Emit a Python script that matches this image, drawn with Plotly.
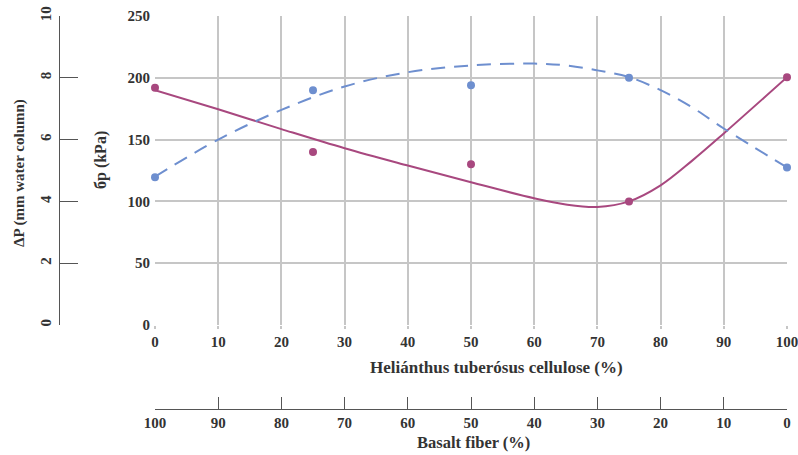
import plotly.graph_objects as go

# measured points
cellulose = [0, 25, 50, 75, 100]
basalt = [100, 75, 50, 25, 0]
purple_vals = [192, 140, 130, 100, 200.5]
blue_vals = [119.5, 190, 194, 200, 127.5]

# trend curves
curve_x = [0, 10, 20, 30, 40, 50, 60, 65, 70, 75, 80, 85, 90, 100]
purple_curve = [190, 174.5, 158.5, 143, 129, 115.5, 102.5, 97.5, 95.5, 100, 113, 133, 155, 200.5]
blue_curve = [120, 150, 174, 193, 204.5, 210, 211.5, 210, 206, 200.5, 190, 176, 159, 127.5]

x_ticks = list(range(0, 101, 10))
y_ticks = list(range(0, 251, 50))
dp_ticks = list(range(0, 11, 2))

PURPLE = "#A8487F"
BLUE = "#6E8FCF"
GRID = "#C6C6C6"
TXT = "#333333"
AX = "#555555"
FONT = "Liberation Serif"

W, H = 798, 455
ml, mr, mt, mb = 40, 10, 16, 46
pw = W - ml - mr
ph = H - mt - mb


def px(xp):
    return (xp - ml) / pw


def py(yp):
    return (H - mb - yp) / ph


fig = go.Figure()
fig.add_trace(go.Scatter(x=curve_x, y=purple_curve, mode="lines", line_shape="spline",
                         line=dict(color=PURPLE, width=2), showlegend=False, hoverinfo="skip"))
fig.add_trace(go.Scatter(x=curve_x, y=blue_curve, mode="lines", line_shape="spline",
                         line=dict(color=BLUE, width=2, dash="14px,9px"),
                         showlegend=False, hoverinfo="skip"))
fig.add_trace(go.Scatter(x=cellulose, y=purple_vals, mode="markers",
                         marker=dict(color=PURPLE, size=8), showlegend=False, cliponaxis=False))
fig.add_trace(go.Scatter(x=cellulose, y=blue_vals, mode="markers",
                         marker=dict(color=BLUE, size=8), showlegend=False, cliponaxis=False))
# invisible traces carrying the secondary axes
fig.add_trace(go.Scatter(x=basalt, y=blue_vals, xaxis="x2", mode="markers",
                         marker=dict(opacity=0), showlegend=False, hoverinfo="skip"))
fig.add_trace(go.Scatter(x=cellulose, y=[v / 25 for v in blue_vals], yaxis="y2", mode="markers",
                         marker=dict(opacity=0), showlegend=False, hoverinfo="skip"))

x_start = px(155)
y_start = py(325)

tf = dict(family=FONT, size=15, color=TXT, weight="bold")

fig.update_layout(
    width=W, height=H,
    margin=dict(l=ml, r=mr, t=mt, b=mb),
    plot_bgcolor="white", paper_bgcolor="white",
    font=dict(family=FONT, color=TXT),
    xaxis=dict(domain=[x_start, px(787)], range=[0, 100], tickvals=x_ticks, automargin=False,
               showgrid=True, gridcolor=GRID, gridwidth=1.5, zeroline=False,
               showline=False, ticks="outside", ticklen=3, tickcolor=GRID, tickwidth=1.5,
               tickfont=tf, anchor="y", ticklabeloverflow="allow"),
    xaxis2=dict(domain=[x_start, px(787)], range=[100, 0], tickvals=x_ticks, anchor="free",
                position=0, overlaying="x", side="bottom", automargin=False,
                showgrid=False, zeroline=False, showline=True, linecolor=AX, linewidth=1,
                ticks="inside", ticklen=12, tickcolor=AX, tickwidth=1, tickfont=tf,
                ticklabeloverflow="allow"),
    yaxis=dict(domain=[y_start, 1], range=[0, 250], tickvals=y_ticks, automargin=False,
               showgrid=True, gridcolor=GRID, gridwidth=1.5, zeroline=False, showline=False,
               ticks="", ticklabelstandoff=4, tickfont=tf, ticklabeloverflow="allow"),
    yaxis2=dict(range=[0, 10], tickvals=dp_ticks, overlaying="y", anchor="free",
                position=px(58.5), side="left", automargin=False,
                showgrid=False, zeroline=False, showline=True, linecolor=AX, linewidth=1,
                ticks="inside", ticklen=18, tickcolor=AX, tickwidth=1, tickangle=-90,
                ticklabelstandoff=2, tickfont=tf, ticklabeloverflow="allow"),
)

titles = [
    ("<b>Heliánthus tuberósus cellulose (%)</b>", 496, 367, 0, 17),
    ("<b>Basalt fiber (%)</b>", 473, 442, 0, 16.5),
    ("<b>ΔP (mm water column)</b>", 20, 173, -90, 15),
    ("<b>бp (kPa)</b>", 101, 160, -90, 16),
]
for text, xp, yp, ang, size in titles:
    fig.add_annotation(text=text, x=px(xp), y=py(yp), xref="paper", yref="paper",
                       xanchor="center", yanchor="middle", showarrow=False, textangle=ang,
                       font=dict(family=FONT, size=size, color=TXT))

fig.write_html("out.html", config={"displayModeBar": False},
               post_script="document.body.style.margin='0';document.body.style.overflow='hidden';")
